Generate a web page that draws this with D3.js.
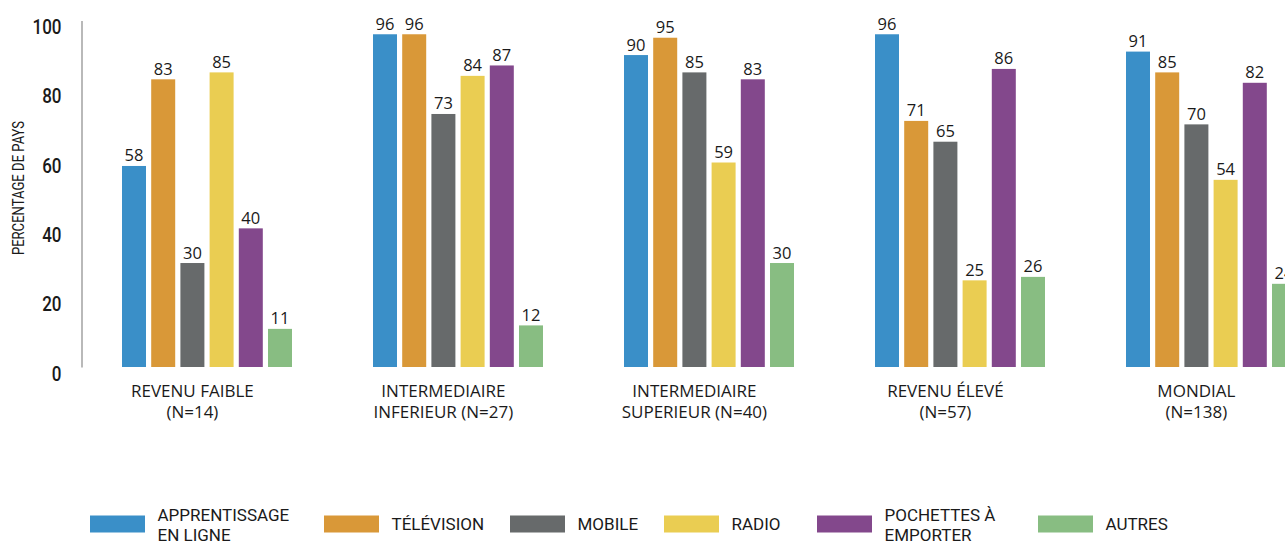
<!DOCTYPE html>
<html>
<head>
<meta charset="utf-8">
<script src="https://cdn.jsdelivr.net/npm/d3@7"></script>
<style>
  html, body { margin: 0; padding: 0; background: #ffffff; }
  svg { display: block; overflow: hidden; }
</style>
</head>
<body>
<svg id="chart" width="1285" height="541"></svg>
<script>
// ---------- DATA ----------
const categories = ["REVENU FAIBLE", "INTERMEDIAIRE INFERIEUR", "INTERMEDIAIRE SUPERIEUR", "REVENU ÉLEVÉ", "MONDIAL"];
const categoryLabelLines = [
  ["REVENU FAIBLE", "(N=14)"],
  ["INTERMEDIAIRE", "INFERIEUR (N=27)"],
  ["INTERMEDIAIRE", "SUPERIEUR (N=40)"],
  ["REVENU ÉLEVÉ", "(N=57)"],
  ["MONDIAL", "(N=138)"]
];
const seriesNames = ["APPRENTISSAGE EN LIGNE", "TÉLÉVISION", "MOBILE", "RADIO", "POCHETTES À EMPORTER", "AUTRES"];
const legendLabelLines = [
  ["APPRENTISSAGE", "EN LIGNE"],
  ["TÉLÉVISION"],
  ["MOBILE"],
  ["RADIO"],
  ["POCHETTES À", "EMPORTER"],
  ["AUTRES"]
];
const onlineLearning = [58, 96, 90, 96, 91];
const television     = [83, 96, 95, 71, 85];
const mobile         = [30, 73, 85, 65, 70];
const radio          = [85, 84, 59, 25, 54];
const takeHomePacks  = [40, 87, 83, 86, 82];
const others         = [11, 12, 30, 26, 24];
const yTicks = [0, 20, 40, 60, 80, 100];
const yAxisTitle = "PERCENTAGE DE PAYS";

// ---------- STYLE / LAYOUT ----------
const seriesValues = [onlineLearning, television, mobile, radio, takeHomePacks, others];
const colors = ["#3a8fc8", "#d99838", "#676a6b", "#eacd52", "#83488c", "#88bd82"];
const legendX = [90, 324, 510, 664, 817, 1038];

const svg = d3.select("#chart");

const y = d3.scaleLinear().domain([0, 100]).range([367, 20.4]);
const x0 = d3.scaleBand().domain(categories).range([122, 1296]).paddingInner(0.3227).paddingOuter(0);
const x1 = d3.scaleBand().domain(seriesNames).range([0, x0.bandwidth()]).paddingInner(0.178).paddingOuter(0);

// Y axis
const yAxis = d3.axisLeft(y).tickValues(yTicks).tickSizeInner(0).tickSizeOuter(0).tickFormat(d3.format("d"));
const gy = svg.append("g").attr("transform", "translate(81.5,0)").call(yAxis);
gy.select(".domain").attr("stroke", "#8a8a8a").attr("stroke-width", 1.2);
gy.selectAll(".tick text")
  .attr("x", 0)
  .attr("dy", "0.35em")
  .attr("transform", "translate(-20,6) scale(0.85,1)")
  .attr("fill", "#1a1a1a")
  .style("font-family", "Roboto, sans-serif")
  .style("font-weight", 500)
  .style("font-size", "20px");

// Y title
svg.append("text")
  .attr("transform", "translate(23.5,188) rotate(-90) scale(0.77,1)")
  .attr("text-anchor", "middle")
  .attr("fill", "#1a1a1a")
  .style("font-family", "Roboto, sans-serif")
  .style("font-size", "17px")
  .text(yAxisTitle);

// Bars
const groups = svg.append("g").selectAll("g")
  .data(categories)
  .join("g")
  .attr("transform", d => `translate(${x0(d)},0)`);

groups.selectAll("rect")
  .data((c, ci) => seriesNames.map((s, si) => ({ s, si, v: seriesValues[si][ci] })))
  .join("rect")
  .attr("x", d => x1(d.s))
  .attr("y", d => y(d.v))
  .attr("width", x1.bandwidth())
  .attr("height", d => y(0) - y(d.v))
  .attr("fill", d => colors[d.si]);

groups.selectAll("text.val")
  .data((c, ci) => seriesNames.map((s, si) => ({ s, si, v: seriesValues[si][ci] })))
  .join("text")
  .attr("class", "val")
  .attr("x", d => x1(d.s) + x1.bandwidth() / 2)
  .attr("y", d => y(d.v) - 4.5)
  .attr("text-anchor", "middle")
  .attr("fill", "#1a1a1a")
  .style("font-family", "'Open Sans', sans-serif")
  .style("font-size", "16.5px")
  .text(d => d.v);

// Category labels (centered over first five bars)
const labelCenter = (x1(seriesNames[0]) + x1(seriesNames[4]) + x1.bandwidth()) / 2;
groups.each(function (c, ci) {
  const t = d3.select(this).append("text")
    .attr("text-anchor", "middle")
    .attr("fill", "#1a1a1a")
    .style("font-family", "'Open Sans', sans-serif")
    .style("font-size", "17px");
  categoryLabelLines[ci].forEach((line, li) => {
    t.append("tspan").attr("x", labelCenter).attr("y", 397 + li * 20.7).text(line);
  });
});

// Legend
const legend = svg.append("g").selectAll("g")
  .data(seriesNames)
  .join("g")
  .attr("transform", (d, i) => `translate(${legendX[i]},0)`);

legend.append("rect")
  .attr("x", 0).attr("y", 515.5)
  .attr("width", 55).attr("height", 17)
  .attr("fill", (d, i) => colors[i]);

legend.each(function (d, i) {
  const lines = legendLabelLines[i];
  const t = d3.select(this).append("text")
    .attr("fill", "#1a1a1a")
    .style("font-family", "Roboto, sans-serif")
    .style("font-size", "17px");
  lines.forEach((line, li) => {
    const yy = lines.length === 1 ? 530 : 521 + li * 20;
    t.append("tspan").attr("x", 67.5).attr("y", yy).text(line);
  });
});
</script>
</body>
</html>
